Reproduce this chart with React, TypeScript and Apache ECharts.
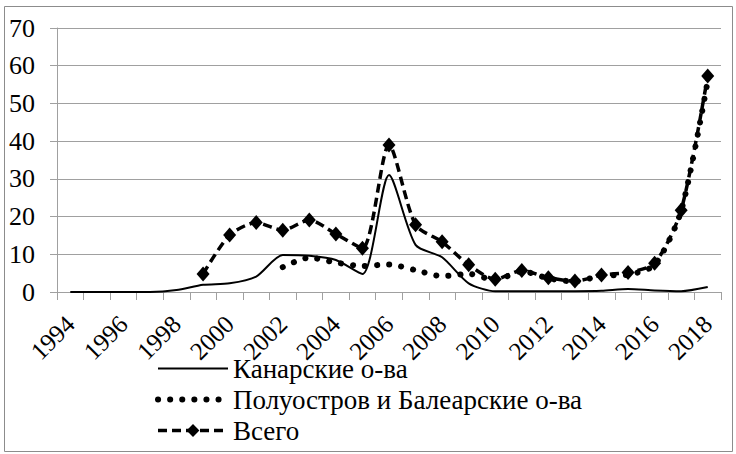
import React, { useEffect, useRef } from "react";
import * as echarts from "echarts";

const years = [
  "1994", "1995", "1996", "1997", "1998", "1999", "2000", "2001", "2002", "2003",
  "2004", "2005", "2006", "2007", "2008", "2009", "2010", "2011", "2012", "2013",
  "2014", "2015", "2016", "2017", "2018",
];

const canary = [
  0, 0, 0, 0, 0.5, 1.9, 2.3, 4.1, 9.8, 9.6,
  8.5, 4.8, 31, 12.5, 9.2, 2.3, 0.2, 0.2, 0.2, 0.2,
  0.3, 0.8, 0.4, 0.2, 1.3,
];

const peninsula = [
  null, null, null, null, null, null, null, null, 6.6, 9.1,
  7.8, 6.9, 7.3, 5.8, 4.2, 4.8, 3.2, 5.5, 3.6, 2.8,
  4.3, 4.6, 7.2, 21.5, 56,
];

const total = [
  null, null, null, null, null, 4.8, 15.1, 18.4, 16.4, 19.1,
  15.4, 11.6, 39, 17.8, 13.3, 7.2, 3.4, 5.7, 3.8, 2.9,
  4.5, 5.2, 7.6, 21.7, 57.3,
];

const seriesNames = ["Канарские о-ва", "Полуостров и Балеарские о-ва", "Всего"];

const FONT = "Liberation Serif";

export default function App() {
  const ref = useRef<HTMLDivElement>(null);

  useEffect(() => {
    if (!ref.current) return;
    const chart = echarts.init(ref.current, null, { renderer: "svg" });
    chart.setOption({
      animation: false,
      backgroundColor: "#ffffff",
      textStyle: { fontFamily: FONT, color: "#000" },
      graphic: [
        {
          type: "rect",
          shape: { x: 4.5, y: 6.5, width: 728, height: 445 },
          style: { fill: "none", stroke: "#8c8c8c", lineWidth: 1 },
          silent: true,
        },
      ],
      grid: { left: 57, right: 15, top: 28, bottom: 162 },
      xAxis: {
        type: "category",
        data: years,
        boundaryGap: true,
        axisLine: { show: true, lineStyle: { color: "#a0a0a0", width: 1 } },
        axisTick: { show: true, interval: 0, length: 8, lineStyle: { color: "#a0a0a0" } },
        axisLabel: {
          interval: 1,
          rotate: 45,
          margin: 28,
          fontSize: 25,
          fontFamily: FONT,
          color: "#000",
        },
        splitLine: { show: false },
      },
      yAxis: {
        type: "value",
        min: 0,
        max: 70,
        interval: 10,
        axisLine: { show: true, lineStyle: { color: "#a0a0a0", width: 1 } },
        axisTick: { show: true, inside: false, length: 7, lineStyle: { color: "#a0a0a0" } },
        axisLabel: { margin: 22, fontSize: 26, fontFamily: FONT, color: "#000" },
        splitLine: { show: true, lineStyle: { color: "#a0a0a0", width: 1 } },
      },
      legend: {
        orient: "vertical",
        left: 155,
        top: 355,
        height: 98,
        padding: 0,
        itemWidth: 70,
        itemHeight: 16,
        itemGap: 4,
        textStyle: { fontFamily: FONT, fontSize: 27, color: "#000", lineHeight: 27 },
        data: [
          { name: seriesNames[0], itemStyle: { opacity: 0 }, lineStyle: { width: 2 } },
          { name: seriesNames[1], itemStyle: { opacity: 0 }, lineStyle: { width: 6 } },
          { name: seriesNames[2], lineStyle: { width: 3.5 } },
        ],
      },
      series: [
        {
          name: seriesNames[0],
          type: "line",
          data: canary,
          smooth: 0.25,
          symbol: "none",
          lineStyle: { color: "#000", width: 2 },
          itemStyle: { color: "#000" },
          z: 2,
        },
        {
          name: seriesNames[1],
          type: "line",
          data: peninsula,
          smooth: 0.25,
          symbol: "none",
          lineStyle: { color: "#000", width: 6, type: [0.1, 12], cap: "round" },
          itemStyle: { color: "#000" },
          z: 3,
        },
        {
          name: seriesNames[2],
          type: "line",
          data: total,
          smooth: 0.25,
          symbol: "diamond",
          symbolSize: [13, 15],
          showSymbol: true,
          lineStyle: { color: "#000", width: 3.5, type: [9, 5] },
          itemStyle: { color: "#000" },
          z: 4,
        },
      ],
    });
    return () => chart.dispose();
  }, []);

  return (
    <div
      ref={ref}
      style={{ position: "fixed", left: 0, top: 0, width: 736, height: 454, background: "#fff" }}
    />
  );
}
